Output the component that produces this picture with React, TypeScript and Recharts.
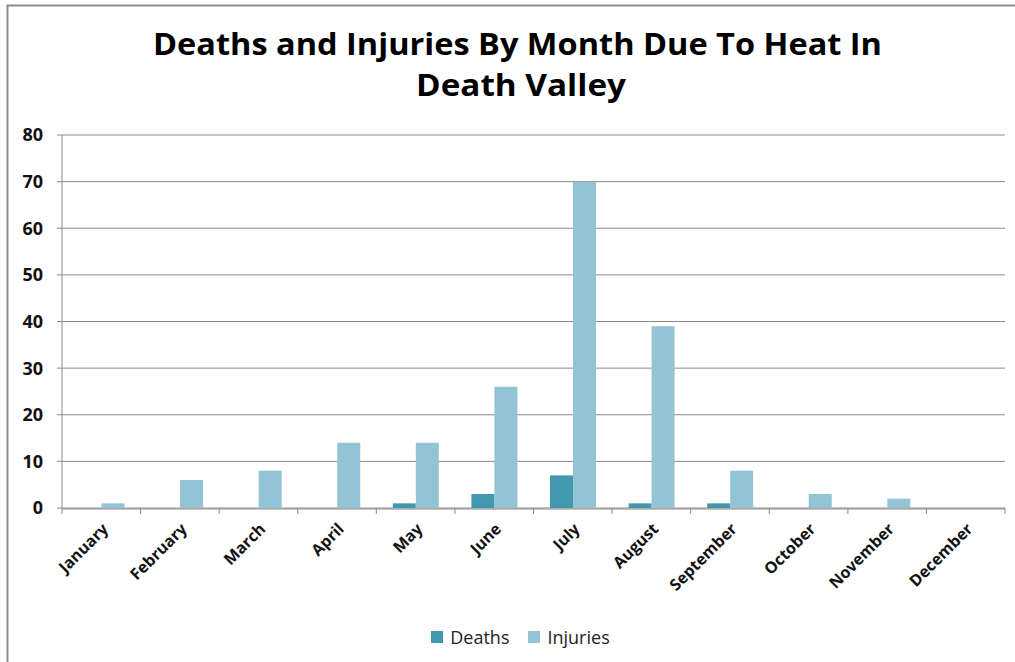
import React from "react";
import { BarChart, Bar, XAxis, YAxis, CartesianGrid, Legend } from "recharts";

const months = ["January", "February", "March", "April", "May", "June", "July", "August", "September", "October", "November", "December"];
const deaths = [0, 0, 0, 0, 1, 3, 7, 1, 1, 0, 0, 0];
const injuries = [1, 6, 8, 14, 14, 26, 70, 39, 8, 3, 2, 0];
const yTicks = [0, 10, 20, 30, 40, 50, 60, 70, 80];
const boundaryTicks = [0, 1, 2, 3, 4, 5, 6, 7, 8, 9, 10, 11, 12];
const titleLines = ["Deaths and Injuries By Month Due To Heat In", "Death Valley"];

const data = months.map((m, i) => ({ month: m, idx: i + 0.5, Deaths: deaths[i], Injuries: injuries[i] }));

const DEATH_COLOR = "#4298AF";
const INJURY_COLOR = "#93C4D5";
const GRID = "#8a8a8a";
const FONT = "'Open Sans', 'Noto Sans', sans-serif";

const MonthTick = (props: any) => {
  const { x, y, payload } = props;
  return (
    <g transform={`translate(${x + 8},${y + 13})`}>
      <text x={0} y={0} textAnchor="end" transform="rotate(-45)" fontSize={16} fontWeight={700} fill="#111" fontFamily={FONT}>
        {payload.value}
      </text>
    </g>
  );
};

const EmptyTick = () => <g />;

const LegendContent = () => (
  <div style={{ height: 24, display: "flex", justifyContent: "center", alignItems: "center", fontFamily: FONT, fontSize: 18, color: "#222", paddingLeft: 36 }}>
    <span style={{ display: "inline-block", width: 12, height: 12, background: DEATH_COLOR, marginRight: 7 }} />
    <span style={{ marginRight: 19 }}>Deaths</span>
    <span style={{ display: "inline-block", width: 12, height: 12, background: INJURY_COLOR, marginRight: 7 }} />
    <span>Injuries</span>
  </div>
);

export default function App() {
  return (
    <div style={{ position: "absolute", left: 0, top: 0, width: 1015, height: 662, background: "#fff" }}>
      <BarChart
        width={1015}
        height={662}
        data={data}
        margin={{ top: 135, right: 10, bottom: 13, left: 0 }}
        barCategoryGap="21%"
        barGap={0}
      >
        <CartesianGrid vertical={false} stroke={GRID} strokeWidth={1} xAxisId="cat" />
        <XAxis
          xAxisId="bounds"
          dataKey="idx"
          type="number"
          domain={[0, 12]}
          allowDataOverflow
          ticks={boundaryTicks}
          interval={0}
          height={1}
          axisLine={false}
          tickLine={{ stroke: GRID, strokeWidth: 1 }}
          tickSize={6}
          tick={<EmptyTick />}
        />
        <XAxis
          xAxisId="cat"
          dataKey="month"
          type="category"
          interval={0}
          height={116}
          axisLine={{ stroke: GRID }}
          tickLine={false}
          tick={<MonthTick />}
        />
        <YAxis
          width={62}
          domain={[0, 80]}
          ticks={yTicks}
          interval={0}
          axisLine={{ stroke: GRID }}
          tickLine={{ stroke: GRID }}
          tickSize={5}
          tickMargin={14}
          tick={{ fontSize: 18, fontWeight: 700, fill: "#111", fontFamily: FONT }}
        />
        <Bar xAxisId="cat" dataKey="Deaths" fill={DEATH_COLOR} isAnimationActive={false} />
        <Bar xAxisId="cat" dataKey="Injuries" fill={INJURY_COLOR} isAnimationActive={false} />
        <Legend verticalAlign="bottom" content={<LegendContent />} />
      </BarChart>
      <svg width={1015} height={662} style={{ position: "absolute", left: 0, top: 0, pointerEvents: "none" }}>
        <rect x={7.5} y={5.5} width={1020} height={700} fill="none" stroke="#8c8c8c" strokeWidth={2} />
        <text x={517.5} y={55} textAnchor="middle" fontFamily={FONT} fontWeight={700} fontSize={31} fill="#000" textLength={729} lengthAdjust="spacingAndGlyphs">
          {titleLines[0]}
        </text>
        <text x={521} y={96} textAnchor="middle" fontFamily={FONT} fontWeight={700} fontSize={31} fill="#000" textLength={210} lengthAdjust="spacingAndGlyphs">
          {titleLines[1]}
        </text>
      </svg>
    </div>
  );
}
